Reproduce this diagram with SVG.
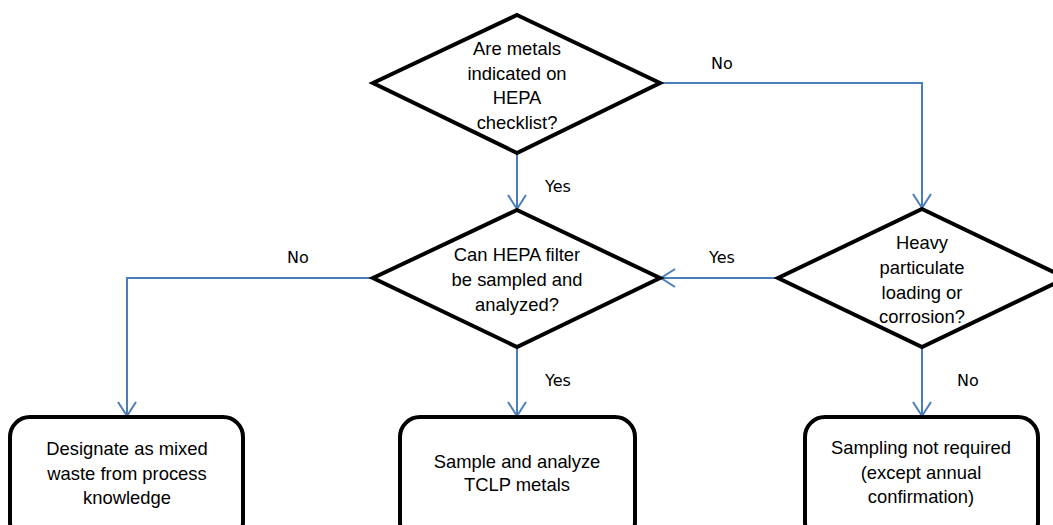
<svg xmlns="http://www.w3.org/2000/svg" width="1053" height="525" viewBox="0 0 1053 525">
<style>
.shape{fill:#fff;stroke:#000;stroke-width:4;stroke-linejoin:miter}
.box{fill:#fff;stroke:#000;stroke-width:4}
.t{font-family:"Liberation Sans",Arial,sans-serif;font-size:18.4px;fill:#000;text-anchor:middle}
.lbl{font-family:"DejaVu Sans",sans-serif;font-size:16px;fill:#000;text-anchor:middle}
.c{fill:none;stroke:#4A7EBB;stroke-width:2}
</style>
<defs>
<marker id="arr" markerUnits="userSpaceOnUse" markerWidth="20" markerHeight="20" refX="15" refY="10" orient="auto">
<path d="M1,1 L15,10 L1,19" fill="none" stroke="#4A7EBB" stroke-width="2"/>
</marker>
</defs>
<g id="connectors">
<polyline class="c" points="660,83 922,83 922,208" marker-end="url(#arr)"/>
<polyline class="c" points="517,153 517,209" marker-end="url(#arr)"/>
<polyline class="c" points="778,278 661,278" marker-end="url(#arr)"/>
<polyline class="c" points="373,278 127,278 127,416" marker-end="url(#arr)"/>
<polyline class="c" points="517,347 517,416" marker-end="url(#arr)"/>
<polyline class="c" points="922,347 922,416" marker-end="url(#arr)"/>
<text class="lbl" x="722" y="69">No</text>
<text class="lbl" x="558" y="192">Yes</text>
<text class="lbl" x="722" y="263">Yes</text>
<text class="lbl" x="298" y="263">No</text>
<text class="lbl" x="558" y="386">Yes</text>
<text class="lbl" x="968" y="386">No</text>
</g>
<g id="d1">
<polygon class="shape" points="517,15 660,83 517,153 373,83"/>
<text class="t" x="517" y="55">Are metals</text>
<text class="t" x="517" y="80">indicated on</text>
<text class="t" x="517" y="104">HEPA</text>
<text class="t" x="517" y="129">checklist?</text>
</g>
<g id="d2">
<polygon class="shape" points="517,210 660,278 517,347 373,278"/>
<text class="t" x="517" y="261">Can HEPA filter</text>
<text class="t" x="517" y="286">be sampled and</text>
<text class="t" x="517" y="311">analyzed?</text>
</g>
<g id="d3">
<polygon class="shape" points="922,209 1066,278 922,347 778,278"/>
<text class="t" x="922" y="249">Heavy</text>
<text class="t" x="922" y="274">particulate</text>
<text class="t" x="922" y="299">loading or</text>
<text class="t" x="922" y="323">corrosion?</text>
</g>
<g id="b1">
<rect class="box" x="10" y="417" width="233" height="125" rx="20"/>
<text class="t" x="127" y="455">Designate as mixed</text>
<text class="t" x="127" y="480">waste from process</text>
<text class="t" x="127" y="504">knowledge</text>
</g>
<g id="b2">
<rect class="box" x="400" y="417" width="235" height="125" rx="20"/>
<text class="t" x="517" y="468">Sample and analyze</text>
<text class="t" x="517" y="491">TCLP metals</text>
</g>
<g id="b3">
<rect class="box" x="805" y="417" width="233" height="125" rx="20"/>
<text class="t" x="921" y="454">Sampling not required</text>
<text class="t" x="921" y="479">(except annual</text>
<text class="t" x="921" y="503">confirmation)</text>
</g>
</svg>
